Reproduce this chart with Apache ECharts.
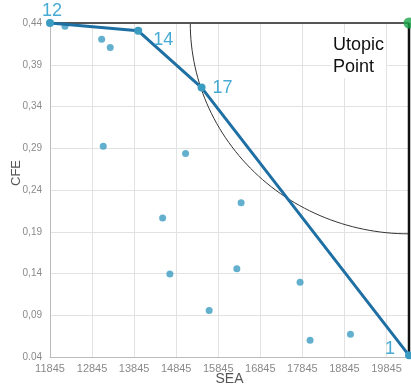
<!DOCTYPE html>
<html><head><meta charset="utf-8">
<script src="https://cdn.jsdelivr.net/npm/echarts@6/dist/echarts.min.js"></script>
<style>html,body{margin:0;padding:0;background:#fff}#c{width:411px;height:388px}</style>
</head><body><div id="c"></div>
<script>
// Data
var paretoSEA = [11845, 13942, 15448, 20380];
var paretoCFE = [0.4400, 0.4307, 0.3627, 0.0420];
var paretoIds = ['12', '14', '17', '1'];
var otherSEA = [12201, 13073, 13277, 13111, 15068, 14522, 14695, 15629, 16389, 16287, 17790, 18028, 18988];
var otherCFE = [0.436, 0.4204, 0.4108, 0.2925, 0.2837, 0.2064, 0.1394, 0.0958, 0.2248, 0.1458, 0.1294, 0.060, 0.0673];
var utopic = [20380, 0.44];
var radiusSEA = 5200, radiusCFE = 0.2525;
var xTicks = ['11845','12845','13845','14845','15845','16845','17845','18845','19845'];
var yTicks = ['0.04','0,09','0,14','0,19','0,24','0,29','0,34','0,39','0,44'];

var chart = echarts.init(document.getElementById('c'), null, {renderer: 'canvas'});
var labelOpts = {
  '12': {position: 'top', offset: [2, 6]},
  '14': {position: 'right', offset: [6, 9]},
  '17': {position: 'right', offset: [2, 0]},
  '1':  {position: 'left', offset: [-5, -6]}
};
var paretoData = paretoSEA.map(function (s, i) {
  var id = paretoIds[i];
  return {value: [s, paretoCFE[i]], name: id,
    label: Object.assign({show: true, formatter: id}, labelOpts[id])};
});
var otherData = otherSEA.map(function (s, i) { return [s, otherCFE[i]]; });

chart.setOption({
  animation: false,
  grid: {left: 50, right: 2, top: 23, bottom: 31, containLabel: false, outerBoundsMode: 'none'},
  xAxis: {
    type: 'value', min: 11845, max: utopic[0], interval: 1000,
    name: 'SEA', nameLocation: 'middle', nameGap: 15, nameMoveOverlap: false,
    nameTextStyle: {color: '#555', fontSize: 14, fontFamily: 'Liberation Sans'},
    axisLine: {show: true, lineStyle: {color: '#bbb'}},
    axisTick: {show: false},
    axisLabel: {color: '#8a8a8a', fontSize: 11, fontFamily: 'Liberation Sans', margin: 6,
      formatter: function (v) { var i = Math.round((v - 11845) / 1000); return xTicks[i] || ''; },
      showMaxLabel: false},
    splitLine: {show: true, lineStyle: {color: '#e2e2e2'}}
  },
  yAxis: {
    type: 'value', min: 0.04, max: 0.44, interval: 0.05,
    name: 'CFE', nameLocation: 'middle', nameGap: 27, nameMoveOverlap: false,
    nameTextStyle: {color: '#555', fontSize: 13, fontFamily: 'Liberation Sans', padding: [0, 0, 0, 34]},
    axisLine: {show: true, lineStyle: {color: '#bbb'}},
    axisTick: {show: false},
    axisLabel: {color: '#8a8a8a', fontSize: 10, fontFamily: 'Liberation Sans', margin: 8,
      formatter: function (v) { var i = Math.round((v - 0.04) / 0.05); return yTicks[i] || ''; }},
    splitLine: {show: true, lineStyle: {color: '#e2e2e2'}}
  },
  graphic: [{
    type: 'text', left: 331, top: 33, z: 100,
    style: {text: 'Utopic\nPoint', fill: '#111', font: '18px "Liberation Sans", Arial', lineHeight: 22,
      backgroundColor: '#fff', padding: [1, 2, 0, 2]}
  }],
  series: [
    {
      type: 'custom', silent: true, z: 1, clip: true,
      data: [utopic],
      renderItem: function (params, api) {
        var c = api.coord([api.value(0), api.value(1)]);
        var sz = api.size([radiusSEA, radiusCFE]);
        var pts = [];
        for (var k = 0; k <= 60; k++) {
          var t = k / 60 * Math.PI / 2;
          pts.push([c[0] - sz[0] * Math.cos(t), c[1] + sz[1] * Math.sin(t)]);
        }
        return {type: 'polyline', shape: {points: pts}, style: {stroke: '#333', lineWidth: 1, fill: null}};
      }
    },
    {
      type: 'line', silent: true, symbol: 'none', z: 2,
      data: [[paretoSEA[0], utopic[1]], utopic],
      lineStyle: {color: '#555', width: 2}
    },
    {
      type: 'line', silent: true, symbol: 'none', z: 2,
      data: [utopic, [utopic[0], paretoCFE[3]]],
      lineStyle: {color: '#111', width: 2.5}
    },
    {
      type: 'scatter', symbolSize: 7, z: 3,
      data: otherData,
      itemStyle: {color: '#3b9cc2'}
    },
    {
      type: 'line', z: 4, data: paretoData, symbol: 'circle', symbolSize: 8,
      lineStyle: {color: '#1e6fa3', width: 3},
      itemStyle: {color: '#3b9cc2'},
      label: {color: '#46aad4', fontSize: 18, fontFamily: 'Liberation Sans'}
    },
    {
      type: 'scatter', z: 5, data: [utopic], symbolSize: 11,
      itemStyle: {color: '#1aa64a'}
    }
  ]
});
</script></body></html>
